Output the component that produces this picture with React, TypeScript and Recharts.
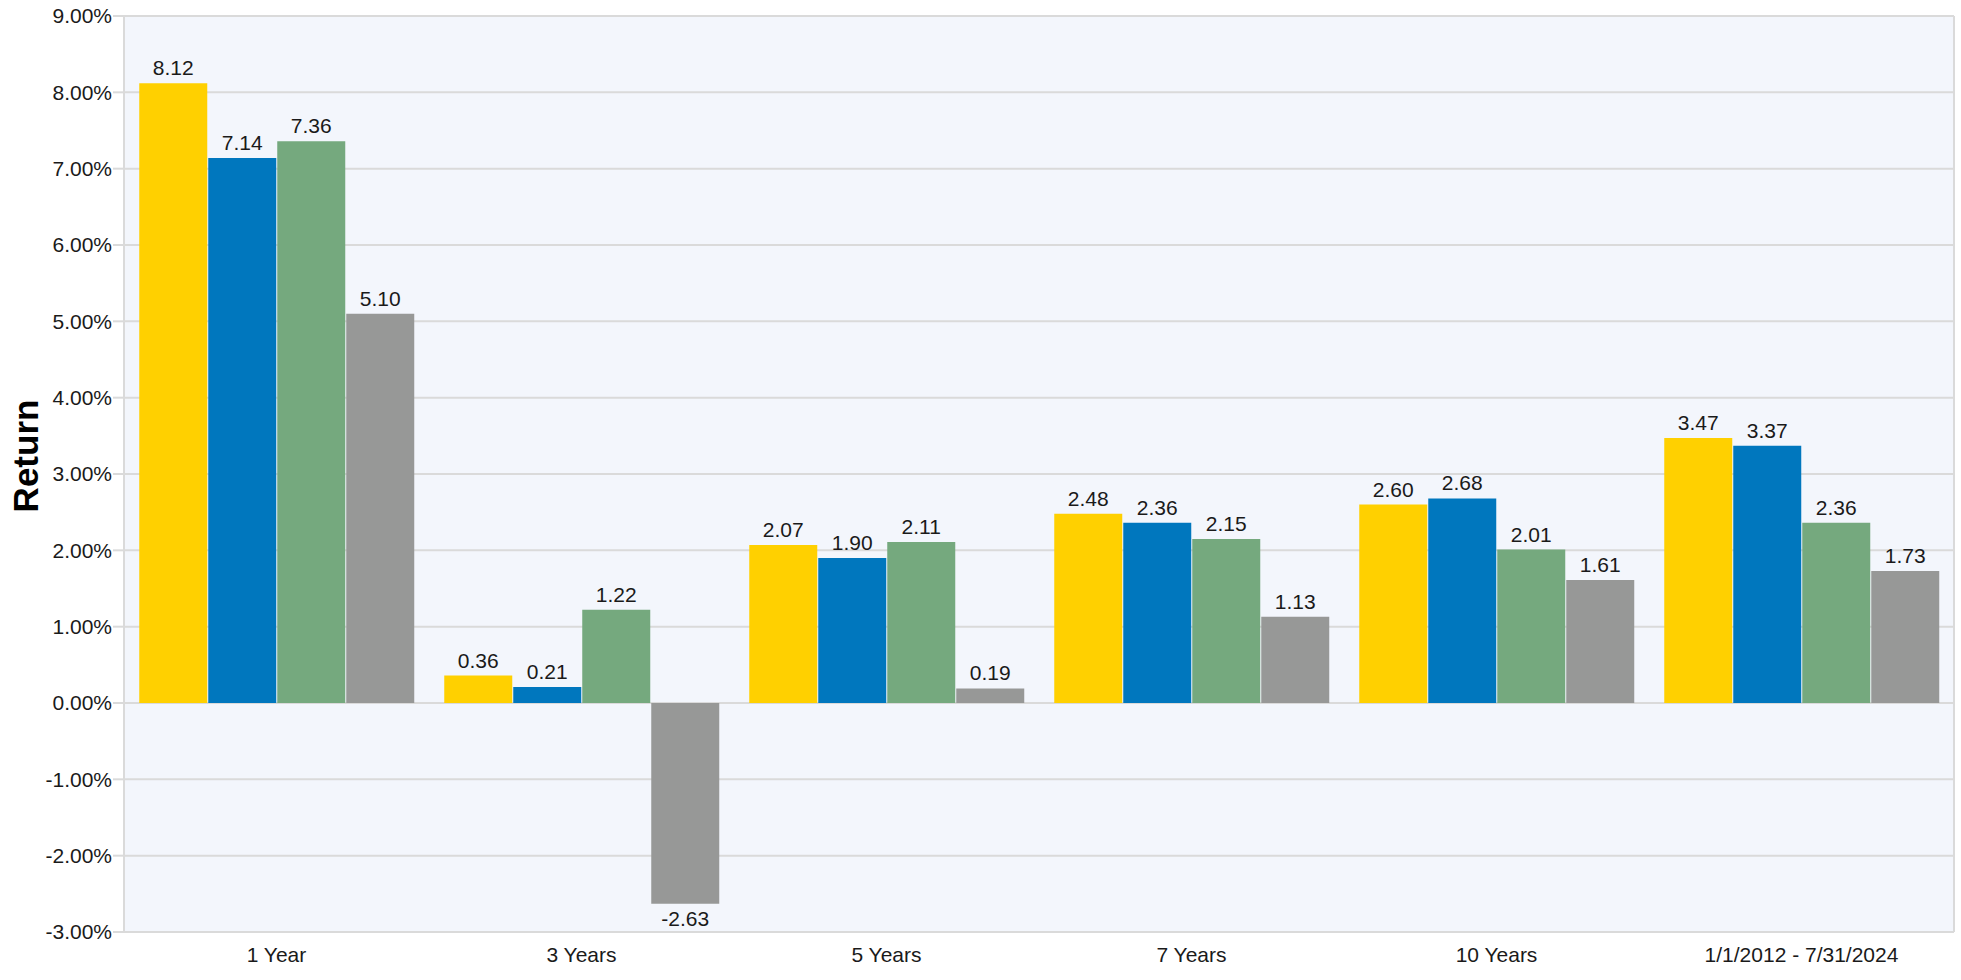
import React from 'react';
import { BarChart, Bar, XAxis, YAxis, CartesianGrid, LabelList, Label } from 'recharts';

const categories = ['1 Year', '3 Years', '5 Years', '7 Years', '10 Years', '1/1/2012 - 7/31/2024'];
const seriesYellow = [8.12, 0.36, 2.07, 2.48, 2.6, 3.47];
const seriesBlue = [7.14, 0.21, 1.9, 2.36, 2.68, 3.37];
const seriesGreen = [7.36, 1.22, 2.11, 2.15, 2.01, 2.36];
const seriesGray = [5.1, -2.63, 0.19, 1.13, 1.61, 1.73];
const yTicks = [-3, -2, -1, 0, 1, 2, 3, 4, 5, 6, 7, 8, 9];
const boundaryTicks = [0, 1, 2, 3, 4, 5, 6];

const data = categories.map((c, i) => ({
  name: c,
  a: seriesYellow[i],
  b: seriesBlue[i],
  c: seriesGreen[i],
  d: seriesGray[i],
}));

const FONT = 'Arial, "Liberation Sans", sans-serif';
const GRID = '#DADADA';

const renderLabel = (props: any) => {
  const { x, y, width, height, value } = props;
  const top = Math.min(y, y + height);
  const bottom = Math.max(y, y + height);
  const cx = x + width / 2;
  const neg = value < 0;
  return (
    <text
      x={cx}
      y={neg ? bottom + 22 : top - 8}
      textAnchor="middle"
      fontFamily={FONT}
      fontSize={21}
      fill="#1a1a1a"
    >
      {Number(value).toFixed(2)}
    </text>
  );
};

const colors = ['#FFD000', '#0077BE', '#75A97E', '#979897'];
const keys = ['a', 'b', 'c', 'd'];

export default function App() {
  return (
    <div style={{ position: 'absolute', left: 0, top: 0 }}>
      <BarChart
        width={1961}
        height={980}
        data={data}
        margin={{ top: 16, right: 7, bottom: 0, left: 0 }}
        barCategoryGap="5%"
        barGap={1}
      >
        <CartesianGrid
          xAxisId="grid"
          yAxisId="y"
          stroke={GRID}
          strokeWidth={2}
          fill="#F3F6FC"
          fillOpacity={1}
        />
        <XAxis
          xAxisId="grid"
          type="number"
          domain={[0, 6]}
          ticks={boundaryTicks}
          tick={false}
          axisLine={false}
          tickLine={{ stroke: GRID, strokeWidth: 2 }}
          tickSize={48}
          height={0}
          allowDataOverflow
        />
        <XAxis
          xAxisId="cat"
          dataKey="name"
          type="category"
          axisLine={false}
          tickLine={false}
          tickSize={0}
          tickMargin={15}
          height={48}
          interval={0}
          tick={{ fontFamily: FONT, fontSize: 21, fill: '#1a1a1a' }}
        />
        <YAxis
          yAxisId="y"
          type="number"
          domain={[-3, 9]}
          ticks={yTicks}
          interval={0}
          width={124}
          axisLine={false}
          tickLine={{ stroke: GRID, strokeWidth: 2 }}
          tickSize={11}
          tickMargin={1}
          tickFormatter={(v: number) => `${v.toFixed(2)}%`}
          tick={{ fontFamily: FONT, fontSize: 21, fill: '#1a1a1a' }}
        >
          <Label
            content={(p: any) => {
              const vb = p.viewBox || {};
              const cx = 25.5;
              const cy = vb.y + vb.height / 2 - 18;
              return (
                <text
                  x={cx}
                  y={cy}
                  transform={`rotate(-90 ${cx} ${cy})`}
                  textAnchor="middle"
                  dominantBaseline="central"
                  fontFamily={FONT}
                  fontWeight="bold"
                  fontSize={35}
                  fill="#000"
                >
                  Return
                </text>
              );
            }}
          />
        </YAxis>
        {keys.map((k, i) => (
          <Bar
            key={k}
            dataKey={k}
            xAxisId="cat"
            yAxisId="y"
            fill={colors[i]}
            isAnimationActive={false}
          >
            <LabelList dataKey={k} content={renderLabel} />
          </Bar>
        ))}
      </BarChart>
    </div>
  );
}
